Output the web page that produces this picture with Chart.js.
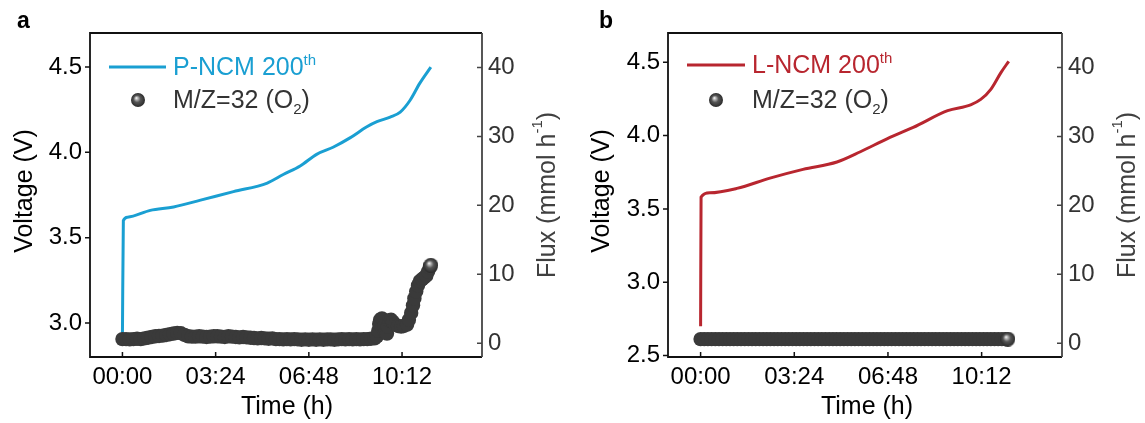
<!DOCTYPE html>
<html>
<head>
<meta charset="utf-8">
<script src="https://cdn.jsdelivr.net/npm/chart.js@4.4.0/dist/chart.umd.min.js"></script>
<style>
  html, body { margin: 0; padding: 0; background: #fff; }
  #wrap { position: relative; width: 1145px; height: 423px; }
  .panel { position: absolute; top: 0; }
  #pa { left: 0; }
  #pb { left: 572px; }
</style>
</head>
<body>
<div id="wrap">
  <div class="panel" id="pa"><canvas id="chartA" width="572" height="423"></canvas></div>
  <div class="panel" id="pb"><canvas id="chartB" width="573" height="423"></canvas></div>
</div>
<script>
/* time axis is in minutes from the start of the charge */
const timeTicks = [0, 204, 408, 612];
const voltTicksA = [3.0, 3.5, 4.0, 4.5];
const voltTicksB = [2.5, 3.0, 3.5, 4.0, 4.5];
const fluxTicks = [0, 10, 20, 30, 40];

/* P-NCM 200th charge curve */
const voltTimeA = [0, 2, 11, 61, 112, 171, 243, 317, 352, 389, 426, 461, 498, 535, 557, 586, 608, 630, 651, 675];
const voltA = [2.93, 3.60, 3.62, 3.66, 3.68, 3.72, 3.77, 3.82, 3.87, 3.92, 3.99, 4.03, 4.085, 4.15, 4.18, 4.207, 4.236, 4.307, 4.406, 4.50];

/* O2 (m/z 32) flux for P-NCM */
const fluxTimeA = [0, 8, 16, 24, 32, 40, 48, 56, 64, 72, 80, 88, 96, 104, 112, 120, 128, 136, 144, 152,
  160, 168, 176, 184, 192, 200, 208, 216, 224, 232, 240, 248, 256, 264, 272, 280, 288, 296, 304, 312,
  320, 328, 336, 344, 352, 360, 368, 376, 384, 392, 400, 408, 416, 424, 432, 440, 448, 456, 464, 472,
  480, 488, 496, 504, 512, 520, 528, 536, 544, 552,
  557, 560, 562, 564, 568, 573, 575, 579, 581, 584, 588, 592, 597, 603, 610, 616, 623, 627, 632, 636,
  639, 643, 647, 651, 656, 660, 665, 669, 673, 675];
const fluxA = [0.6, 0.6, 0.55, 0.6, 0.65, 0.6, 0.7, 0.8, 0.9, 1.0, 1.05, 1.1, 1.2, 1.3, 1.4, 1.5, 1.45, 1.2, 1.0, 0.95,
  0.95, 1.0, 0.95, 0.9, 0.95, 1.0, 1.0, 0.95, 0.9, 1.0, 0.95, 0.9, 0.85, 0.9, 0.85, 0.8, 0.75, 0.7, 0.75, 0.7,
  0.65, 0.7, 0.6, 0.6, 0.55, 0.6, 0.55, 0.6, 0.55, 0.5, 0.55, 0.5, 0.55, 0.5, 0.55, 0.5, 0.55, 0.55, 0.5, 0.55,
  0.6, 0.55, 0.6, 0.55, 0.6, 0.55, 0.6, 0.6, 0.65, 0.7,
  1.0, 1.8, 2.8, 3.4, 3.6, 2.5, 1.6, 1.4, 2.4, 3.3, 3.4, 3.1, 2.7, 2.5, 2.4, 2.5, 2.7, 3.4, 4.4, 5.5,
  6.5, 7.5, 8.4, 9.0, 9.3, 9.5, 9.8, 10.4, 11.0, 11.3];

/* L-NCM 200th charge curve */
const voltTimeB = [0, 1, 20, 79, 151, 223, 297, 348, 407, 463, 538, 588, 610, 632, 654, 671];
const voltB = [2.70, 3.58, 3.61, 3.64, 3.71, 3.77, 3.82, 3.89, 3.98, 4.056, 4.17, 4.21, 4.247, 4.316, 4.43, 4.507];

/* O2 (m/z 32) flux for L-NCM */
const fluxTimeB = [0, 8, 16, 24, 32, 40, 48, 56, 64, 72, 80, 88, 96, 104, 112, 120, 128, 136, 144, 152,
  160, 168, 176, 184, 192, 200, 208, 216, 224, 232, 240, 248, 256, 264, 272, 280, 288, 296, 304, 312,
  320, 328, 336, 344, 352, 360, 368, 376, 384, 392, 400, 408, 416, 424, 432, 440, 448, 456, 464, 472,
  480, 488, 496, 504, 512, 520, 528, 536, 544, 552, 560, 568, 576, 584, 592, 600, 608, 616, 624, 632,
  640, 648, 656, 664, 669];
const fluxB = [0.6, 0.6, 0.6, 0.6, 0.6, 0.6, 0.6, 0.6, 0.6, 0.6, 0.6, 0.6, 0.6, 0.6, 0.6, 0.6, 0.6, 0.6, 0.6, 0.6,
  0.6, 0.6, 0.6, 0.6, 0.6, 0.6, 0.6, 0.6, 0.6, 0.6, 0.6, 0.6, 0.6, 0.6, 0.6, 0.6, 0.6, 0.6, 0.6, 0.6,
  0.6, 0.6, 0.6, 0.6, 0.6, 0.6, 0.6, 0.6, 0.6, 0.6, 0.6, 0.6, 0.6, 0.6, 0.6, 0.6, 0.6, 0.6, 0.6, 0.6,
  0.6, 0.6, 0.6, 0.6, 0.6, 0.6, 0.6, 0.6, 0.6, 0.6, 0.6, 0.6, 0.6, 0.6, 0.6, 0.6, 0.6, 0.6, 0.6, 0.6,
  0.6, 0.6, 0.6, 0.6, 0.6];

const FONT = '"Liberation Sans", Arial, sans-serif';
const DOT = '#3a3a3a';

// shaded ball used for the last flux point and the legend marker
function makeSphere(r) {
  const c = document.createElement('canvas');
  c.width = c.height = r * 2;
  const g = c.getContext('2d');
  const grad = g.createRadialGradient(r * 0.75, r * 0.7, 0, r, r, r);
  grad.addColorStop(0, '#ffffff');
  grad.addColorStop(0.18, '#bdbdbd');
  grad.addColorStop(0.5, '#555555');
  grad.addColorStop(1, '#2a2a2a');
  g.fillStyle = grad;
  g.beginPath(); g.arc(r, r, r, 0, Math.PI * 2); g.fill();
  return c;
}
const sphere = makeSphere(7);
const endSphere = makeSphere(7.5);

function hhmm(v) {
  const h = Math.floor(v / 60), m = Math.round(v % 60);
  return String(h).padStart(2, '0') + ':' + String(m).padStart(2, '0');
}

function pairs(xs, ys) { return xs.map((x, i) => ({ x, y: ys[i] })); }

// draws a run of text pieces with super/subscripts, starting at x
function drawRich(ctx, x, y, parts) {
  parts.forEach(p => {
    ctx.font = `${p.size}px ${FONT}`;
    ctx.fillText(p.t, x, y + (p.dy || 0));
    x += ctx.measureText(p.t).width;
  });
  return x;
}
function richWidth(ctx, parts) {
  let w = 0;
  parts.forEach(p => { ctx.font = `${p.size}px ${FONT}`; w += ctx.measureText(p.t).width; });
  return w;
}

const panelDecor = {
  id: 'panelDecor',
  afterDraw(chart, args, o) {
    const { ctx, chartArea: a, scales } = chart;
    ctx.save();

    // frame: black on three sides, grey on the flux side
    ctx.lineWidth = 1.8;
    ctx.strokeStyle = '#111';
    ctx.beginPath();
    ctx.moveTo(a.right, a.top); ctx.lineTo(a.left, a.top);
    ctx.lineTo(a.left, a.bottom); ctx.lineTo(a.right, a.bottom);
    ctx.stroke();
    ctx.strokeStyle = '#444';
    ctx.beginPath(); ctx.moveTo(a.right, a.top); ctx.lineTo(a.right, a.bottom); ctx.stroke();

    // tick marks
    ctx.lineWidth = 1.5;
    ctx.strokeStyle = '#111';
    ctx.beginPath();
    scales.yV.ticks.forEach(t => {
      const y = scales.yV.getPixelForValue(t.value);
      ctx.moveTo(a.left - 5, y); ctx.lineTo(a.left, y);
    });
    scales.x.ticks.forEach(t => {
      const x = scales.x.getPixelForValue(t.value);
      ctx.moveTo(x, a.bottom); ctx.lineTo(x, a.bottom - 5);
    });
    ctx.stroke();
    ctx.strokeStyle = '#444';
    ctx.beginPath();
    scales.yF.ticks.forEach(t => {
      const y = scales.yF.getPixelForValue(t.value);
      ctx.moveTo(a.right - 5, y); ctx.lineTo(a.right, y);
    });
    ctx.stroke();

    // panel letter
    ctx.fillStyle = '#000';
    ctx.font = `bold 23px ${FONT}`;
    ctx.textBaseline = 'alphabetic';
    ctx.fillText(o.letter, o.letterX, 28);

    // legend
    const lg = o.legend;
    ctx.strokeStyle = o.color;
    ctx.lineWidth = 3;
    ctx.beginPath(); ctx.moveTo(lg.lineX0, lg.row1); ctx.lineTo(lg.lineX1, lg.row1); ctx.stroke();
    ctx.fillStyle = o.color;
    drawRich(ctx, lg.textX, lg.row1 + 8, [
      { t: o.name + ' 200', size: 25 },
      { t: 'th', size: 15, dy: -10 }
    ]);
    ctx.drawImage(sphere, lg.ballX - 7, lg.row2 - 7);
    ctx.fillStyle = '#333';
    drawRich(ctx, lg.textX, lg.row2 + 8, [
      { t: 'M/Z=32 (O', size: 25 },
      { t: '2', size: 15, dy: 6 },
      { t: ')', size: 25 }
    ]);

    // axis titles
    const tt = o.titles;
    ctx.fillStyle = '#000';
    ctx.font = `25px ${FONT}`;
    ctx.textAlign = 'center';
    ctx.textBaseline = 'middle';
    ctx.fillText('Time (h)', tt.timeX, tt.timeY);

    ctx.save();
    ctx.translate(tt.voltX, tt.voltY);
    ctx.rotate(-Math.PI / 2);
    ctx.fillText('Voltage (V)', 0, 0);
    ctx.restore();

    ctx.save();
    ctx.translate(tt.fluxX, tt.fluxY);
    ctx.rotate(-Math.PI / 2);
    ctx.textAlign = 'left';
    ctx.fillStyle = '#404040';
    const fluxParts = [
      { t: 'Flux (mmol h', size: 25 },
      { t: '-1', size: 15, dy: -10 },
      { t: ')', size: 25 }
    ];
    drawRich(ctx, -richWidth(ctx, fluxParts) / 2, 0, fluxParts);
    ctx.restore();

    ctx.restore();
  }
};

function makeChart(id, cfg) {
  const fluxPts = pairs(cfg.fluxT, cfg.flux);
  const last = fluxPts.length - 1;
  return new Chart(document.getElementById(id), {
    data: {
      datasets: [
        {
          type: 'scatter',
          label: 'M/Z=32 (O2)',
          data: fluxPts,
          yAxisID: 'yF',
          order: 0,
          pointRadius: 7.2,
          pointStyle: ctx => ctx.dataIndex === last ? endSphere : 'circle',
          backgroundColor: DOT,
          borderWidth: 0
        },
        {
          type: 'line',
          label: cfg.name,
          data: pairs(cfg.voltT, cfg.volt),
          yAxisID: 'yV',
          order: 1,
          borderColor: cfg.color,
          borderWidth: 3,
          pointRadius: 0,
          cubicInterpolationMode: 'monotone',
          fill: false
        }
      ]
    },
    options: {
      responsive: false,
      animation: false,
      devicePixelRatio: 1,
      layout: { padding: { top: 33, left: 0, right: 0, bottom: 0 } },
      plugins: {
        legend: { display: false },
        tooltip: { enabled: false },
        panelDecor: cfg.decor
      },
      scales: {
        x: {
          type: 'linear', min: -71, max: 787,
          afterBuildTicks: s => { s.ticks = timeTicks.map(v => ({ value: v })); },
          afterFit: s => { s.height = 66; },
          grid: { display: false, drawTicks: false },
          border: { display: false },
          ticks: { callback: v => hhmm(v), color: '#000', font: { family: FONT, size: 24 }, padding: 6, maxRotation: 0, autoSkip: false }
        },
        yV: {
          type: 'linear', position: 'left', min: cfg.vMin, max: 4.7,
          afterBuildTicks: s => { s.ticks = cfg.vTicks.map(v => ({ value: v })); },
          afterFit: s => { s.width = cfg.left; },
          grid: { display: false, drawTicks: false },
          border: { display: false },
          ticks: { callback: v => v.toFixed(1), color: '#000', font: { family: FONT, size: 24 }, padding: 8 }
        },
        yF: {
          type: 'linear', position: 'right', min: -2, max: 45,
          afterBuildTicks: s => { s.ticks = fluxTicks.map(v => ({ value: v })); },
          afterFit: s => { s.width = cfg.right; },
          grid: { display: false, drawTicks: false },
          border: { display: false },
          ticks: { color: '#333', font: { family: FONT, size: 24 }, padding: 6 }
        }
      }
    },
    plugins: [panelDecor]
  });
}

makeChart('chartA', {
  name: 'P-NCM', color: '#1a9fd2',
  voltT: voltTimeA, volt: voltA, fluxT: fluxTimeA, flux: fluxA,
  vMin: 2.8, vTicks: voltTicksA, left: 90, right: 90,
  decor: {
    letter: 'a', letterX: 17, color: '#1a9fd2', name: 'P-NCM',
    legend: { lineX0: 109, lineX1: 166, textX: 173, ballX: 138, row1: 67, row2: 100 },
    titles: { timeX: 287, timeY: 407, voltX: 25, voltY: 191, fluxX: 548, fluxY: 195 }
  }
});

makeChart('chartB', {
  name: 'L-NCM', color: '#b8262f',
  voltT: voltTimeB, volt: voltB, fluxT: fluxTimeB, flux: fluxB,
  vMin: 2.49, vTicks: voltTicksB, left: 96, right: 83,
  decor: {
    letter: 'b', letterX: 27, color: '#b8262f', name: 'L-NCM',
    legend: { lineX0: 115, lineX1: 173, textX: 180, ballX: 144, row1: 65, row2: 100 },
    titles: { timeX: 295, timeY: 407, voltX: 30, voltY: 191, fluxX: 556, fluxY: 195 }
  }
});
</script>
</body>
</html>
